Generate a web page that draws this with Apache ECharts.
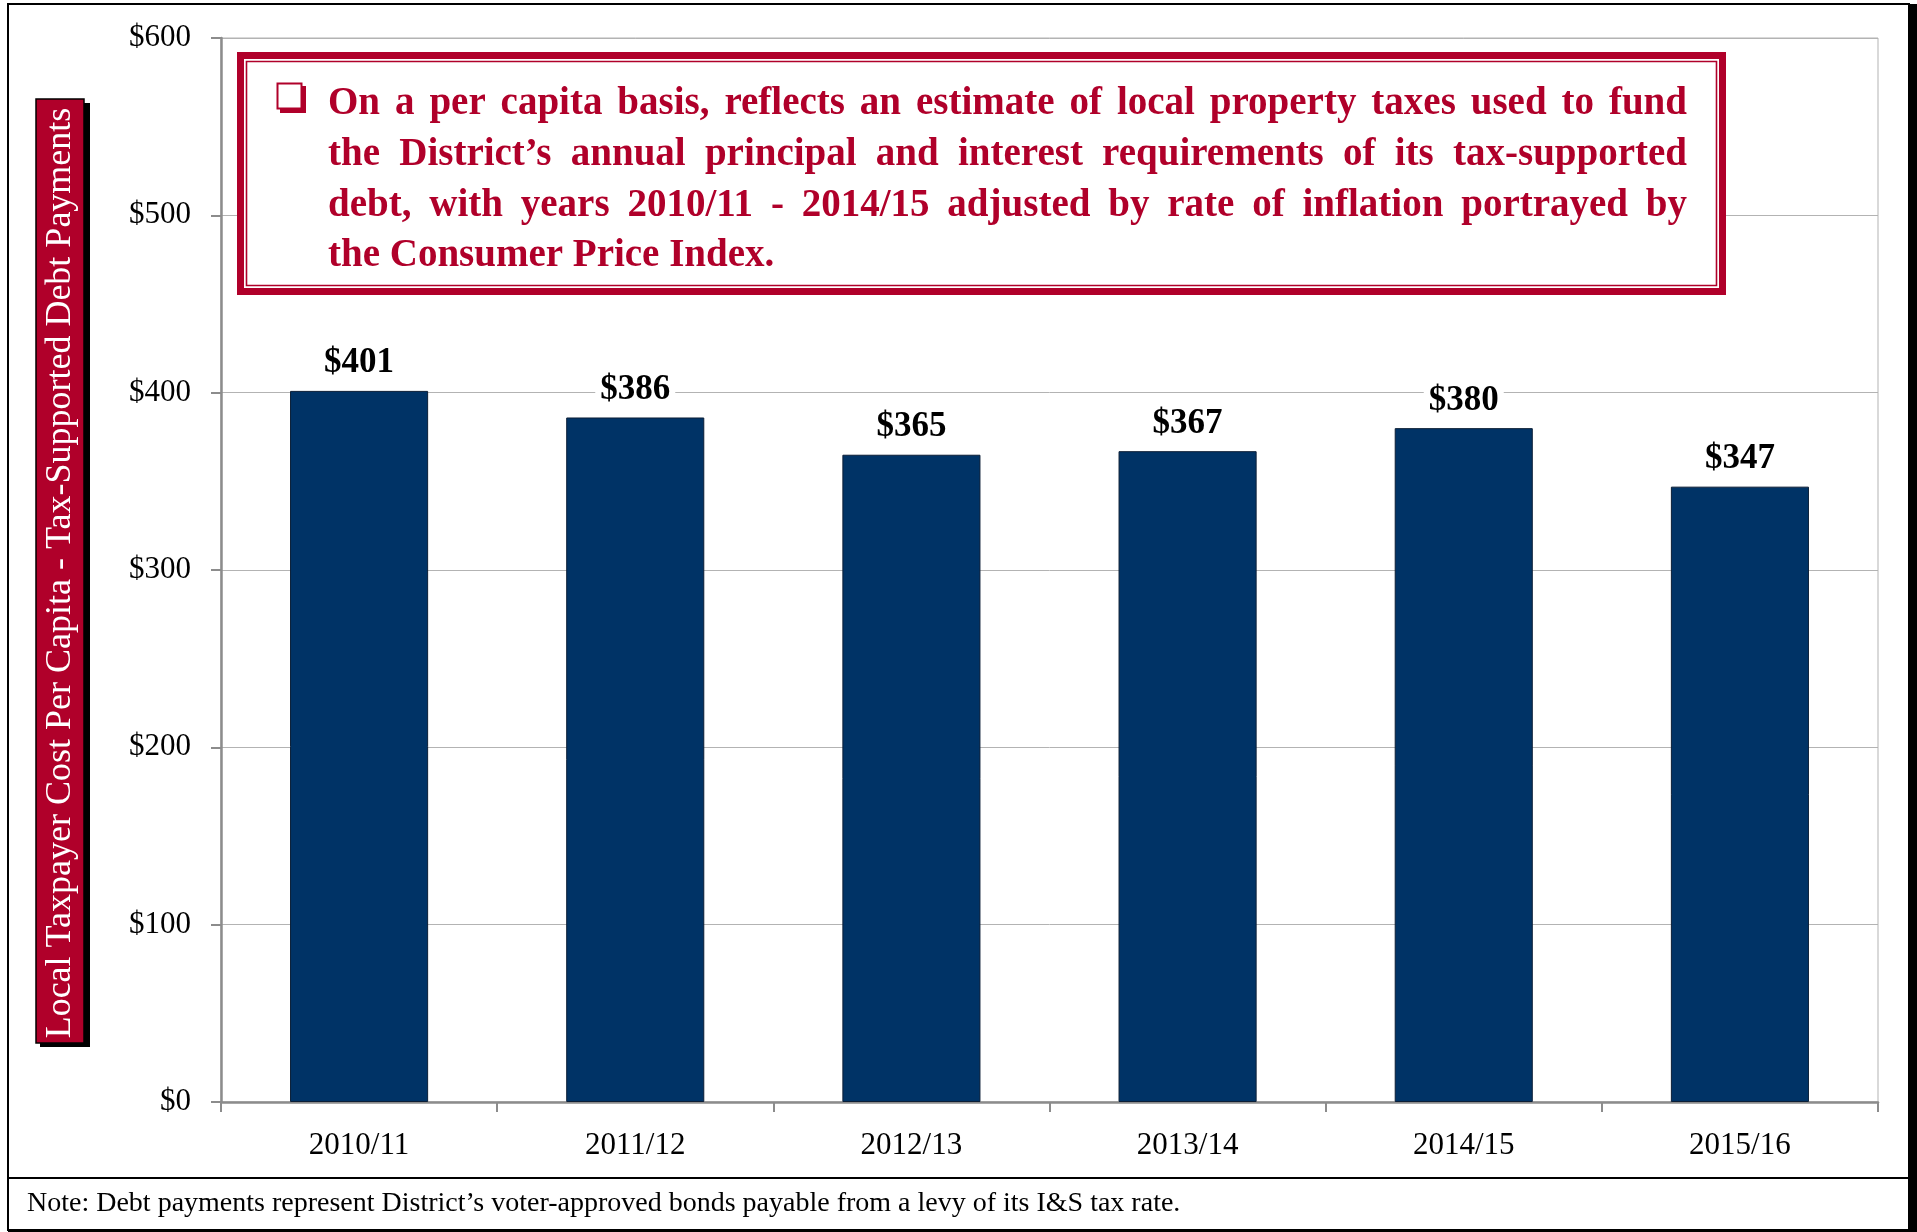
<!DOCTYPE html>
<html><head><meta charset="utf-8">
<script src="https://cdn.jsdelivr.net/npm/echarts@6/dist/echarts.min.js"></script>
<style>html,body{margin:0;padding:0;background:#fff}#c{width:1917px;height:1232px}</style>
</head><body><div id="c"></div>
<script>
const categories = ['2010/11', '2011/12', '2012/13', '2013/14', '2014/15', '2015/16'];
const values = [401, 386, 365, 367, 380, 347];
const yTitle = 'Local Taxpayer Cost Per Capita - Tax-Supported Debt Payments';
const noteText = 'Note: Debt payments represent District\u2019s voter-approved bonds payable from a levy of its I&S tax rate.';
const calloutLines = [
  'On a per capita basis, reflects an estimate of local property taxes used to fund',
  'the District\u2019s annual principal and interest requirements of its tax-supported',
  'debt, with years 2010/11 - 2014/15 adjusted by rate of inflation portrayed by',
  'the Consumer Price Index.'
];

const RED = '#B0002A', NAVY = '#003366';
const SERIF = '"Liberation Serif", "Times New Roman", serif';

const mctx = document.createElement('canvas').getContext('2d');
function tw(text, font) { mctx.font = font; return mctx.measureText(text).width; }
function fitSize(texts, weight, target, maxSize) {
  let s = maxSize;
  while (s > 8 && Math.max(...texts.map(t => tw(t, weight + ' ' + s + 'px ' + SERIF))) > target) s -= 0.5;
  return s;
}

const graphics = [];
// outer frame
graphics.push({ type: 'rect', shape: { x: 1909, y: 4, width: 8, height: 1228 }, style: { fill: '#000' }, z: 50 });
graphics.push({ type: 'rect', shape: { x: 8, y: 1229, width: 1909, height: 3 }, style: { fill: '#000' }, z: 50 });
graphics.push({ type: 'rect', shape: { x: 8, y: 4, width: 1901, height: 1226 }, style: { fill: null, stroke: '#000', lineWidth: 2 }, z: 50 });
graphics.push({ type: 'line', shape: { x1: 8, y1: 1178, x2: 1909, y2: 1178 }, style: { stroke: '#000', lineWidth: 2 }, z: 50 });

// note
const noteSize = fitSize([noteText], 'normal', 1158, 30);
graphics.push({ type: 'text', x: 27, y: 1204, z: 50, style: { text: noteText, font: 'normal ' + noteSize + 'px ' + SERIF, fill: '#000', textAlign: 'left', textVerticalAlign: 'middle' } });

// y title box
graphics.push({ type: 'rect', shape: { x: 40, y: 103, width: 50, height: 944 }, style: { fill: '#000' }, z: 50 });
graphics.push({ type: 'rect', shape: { x: 36, y: 99, width: 48, height: 944 }, style: { fill: RED, stroke: '#000', lineWidth: 1.5 }, z: 51 });
const ySize = fitSize([yTitle], 'normal', 935, 37);
graphics.push({ type: 'text', x: 61, y: 573, rotation: Math.PI / 2, z: 52, style: { text: yTitle, font: 'normal ' + ySize + 'px ' + SERIF, fill: '#fff', textAlign: 'center', textVerticalAlign: 'middle' } });

// callout box
graphics.push({ type: 'rect', shape: { x: 237, y: 52, width: 1489, height: 243 }, style: { fill: RED }, z: 60 });
graphics.push({ type: 'rect', shape: { x: 244, y: 59, width: 1475, height: 229 }, style: { fill: '#fff' }, z: 61 });
graphics.push({ type: 'rect', shape: { x: 246.5, y: 61.5, width: 1470, height: 224 }, style: { fill: '#fff', stroke: RED, lineWidth: 1.6 }, z: 62 });
// checkbox bullet
graphics.push({ type: 'rect', shape: { x: 280, y: 86, width: 26, height: 27 }, style: { fill: RED }, z: 63 });
graphics.push({ type: 'rect', shape: { x: 277.5, y: 83.5, width: 24, height: 25 }, style: { fill: '#fff', stroke: RED, lineWidth: 2 }, z: 64 });

const textLeft = 328, textRight = 1687, lineW = textRight - textLeft;
const cFont = 'bold 39px ' + SERIF;
const natural = Math.max(...calloutLines.slice(0, 3).map(l => tw(l, cFont)));
const sx = Math.min(1, (lineW - 25) / natural);
const lineYs = [104, 155, 205.5, 256];
calloutLines.forEach((line, i) => {
  const words = line.split(' ');
  const justify = i < calloutLines.length - 1;
  const widths = words.map(wd => tw(wd, cFont) * sx);
  const total = widths.reduce((a, b) => a + b, 0);
  const gap = justify ? (lineW - total) / (words.length - 1) : tw(' ', cFont) * sx;
  let x = textLeft;
  words.forEach((wd, j) => {
    graphics.push({ type: 'text', x: x, y: lineYs[i], scaleX: sx, z: 65, style: { text: wd, font: cFont, fill: RED, textAlign: 'left', textVerticalAlign: 'middle' } });
    x += widths[j] + gap;
  });
});

const chart = echarts.init(document.getElementById('c'), null, { renderer: 'canvas' });
chart.setOption({
  backgroundColor: '#fff',
  animation: false,
  grid: { left: 221, right: 39, top: 38, bottom: 130, show: true, borderColor: '#b3b3b3', borderWidth: 1, containLabel: false },
  xAxis: {
    type: 'category', data: categories,
    axisLine: { show: true, lineStyle: { color: '#8c8c8c', width: 2.5 } },
    axisTick: { show: true, length: 10, lineStyle: { color: '#8c8c8c', width: 2 } },
    axisLabel: { fontFamily: SERIF, fontSize: 31, color: '#000', margin: 28 },
    splitLine: { show: false }
  },
  yAxis: {
    type: 'value', min: 0, max: 600, interval: 100,
    axisLine: { show: true, lineStyle: { color: '#8c8c8c', width: 2.5 } },
    axisTick: { show: true, length: 10, lineStyle: { color: '#8c8c8c', width: 2 } },
    axisLabel: { fontFamily: SERIF, fontSize: 31, color: '#000', margin: 30, formatter: v => '$' + v },
    splitLine: { show: true, lineStyle: { color: '#b3b3b3', width: 1 } }
  },
  series: [{
    type: 'bar', data: values, barCategoryGap: '50%',
    itemStyle: { color: NAVY, borderColor: '#0b1e36', borderWidth: 1 },
    label: {
      show: true, position: 'top', distance: 10,
      formatter: p => '$' + p.value,
      fontFamily: SERIF, fontWeight: 'bold', fontSize: 35, color: '#000',
      backgroundColor: '#fff', padding: [0, 5], lineHeight: 35
    }
  }],
  graphic: { elements: graphics }
});
</script>
</body></html>
